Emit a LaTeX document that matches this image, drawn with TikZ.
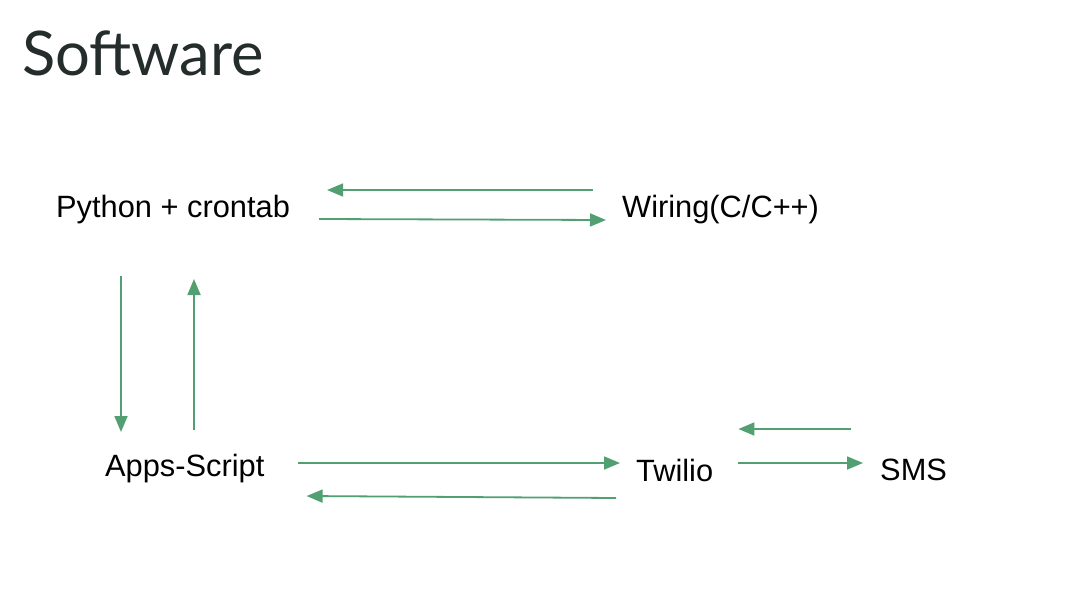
\documentclass[tikz,border=0pt]{standalone}
\usepackage{fontspec}
\setmainfont{Liberation Sans}
\newfontfamily\titlefont{Lato}
\usepackage{xcolor}
\usetikzlibrary{arrows.meta}
\definecolor{flowgreen}{RGB}{82,160,114}
\definecolor{titlegray}{RGB}{36,44,44}
\begin{document}
\begin{tikzpicture}[
    x=1pt, y=-1pt,
    item/.style={inner sep=0pt, anchor=base west, font=\fontsize{30.8}{36}\selectfont},
    flow/.style={draw=flowgreen, line width=1.8pt, -{Triangle[length=16pt,width=13pt]}}
]
\useasboundingbox[fill=white] (0,0) rectangle (1070,608);
\node[inner sep=0pt, anchor=base west, text=titlegray, font=\titlefont\fontsize{61.5}{72}\selectfont] (title) at (22,75) {Software};

\node[item] (py)  at (56,217)  {Python + crontab};
\node[item] (wir) at (622,217) {Wiring(C/C++)};
\node[item] (aps) at (105,476) {Apps-Script};
\node[item] (tw)  at (636,481) {Twilio};
\node[item] (sms) at (880,480) {SMS};

% python <-> wiring
\draw[flow] ([shift={(29pt,-2pt)}]py.base east) -- ([shift={(-16pt,-3pt)}]wir.base west);
\draw[flow] ([shift={(-29pt,27pt)}]wir.base west) -- ([shift={(37pt,27pt)}]py.base east);
% python <-> apps-script
\draw[flow] ([shift={(65pt,-59pt)}]py.base west) -- ([shift={(16pt,44pt)}]aps.base west);
\draw[flow] ([shift={(89pt,46pt)}]aps.base west) -- ([shift={(138pt,-62pt)}]py.base west);
% apps-script <-> twilio
\draw[flow] ([shift={(33pt,13pt)}]aps.base east) -- ([shift={(-16pt,18pt)}]tw.base west);
\draw[flow] ([shift={(-20pt,-17pt)}]tw.base west) -- ([shift={(42pt,-20pt)}]aps.base east);
% twilio <-> sms
\draw[flow] ([shift={(-29pt,51pt)}]sms.base west) -- ([shift={(25pt,52pt)}]tw.base east);
\draw[flow] ([shift={(25pt,18pt)}]tw.base east) -- ([shift={(-17pt,17pt)}]sms.base west);
\end{tikzpicture}
\end{document}
